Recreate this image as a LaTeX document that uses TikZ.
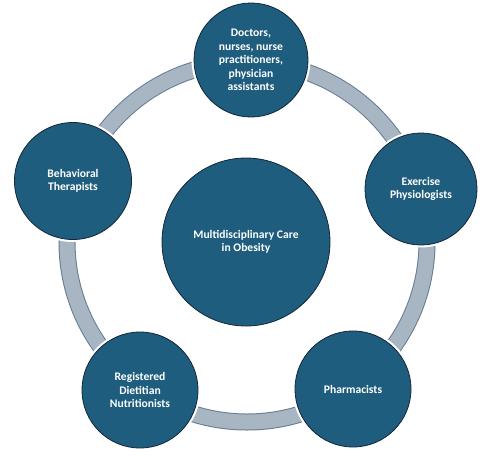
\documentclass[tikz,border=0pt]{standalone}
\usepackage{fontspec}
\setmainfont{Carlito}
\definecolor{bubfill}{RGB}{30,93,125}
\definecolor{bubline}{RGB}{20,38,58}
\definecolor{ringfill}{RGB}{168,181,194}
\definecolor{ringline}{RGB}{100,124,145}
\begin{document}
\begin{tikzpicture}[x=1pt,y=1pt,
  bub/.style={circle, fill=bubfill, draw=bubline, line width=0.8pt,
    minimum size=#1, inner sep=0pt, text=white, align=center,
    font=\bfseries\fontsize{11.6}{13.6}\selectfont,
    preaction={draw=white, line width=5pt}},
  ringedge/.style={draw=ringline, line width=17pt},
  ringbody/.style={draw=ringfill, line width=15pt}]
\useasboundingbox[fill=white] (0,0) rectangle (492,-456);
\coordinate (o) at (247,-242);
\draw[ringedge] (o) circle (180);
\draw[ringbody] (o) circle (180);
\node[bub=168pt] (center) at (246,-242) {Multidisciplinary Care\\in Obesity};
\node[bub=114pt] (top) at (251,-60) {Doctors,\\nurses, nurse\\practitioners,\\physician\\assistants};
\node[bub=112pt] (right) at (421,-189) {Exercise\\Physiologists};
\node[bub=116pt] (pharm) at (353,-389) {Pharmacists};
\node[bub=116pt] (diet) at (140,-390) {Registered\\Dietitian\\Nutritionists};
\node[bub=117pt] (left) at (73,-181) {Behavioral\\Therapists};
\end{tikzpicture}
\end{document}
